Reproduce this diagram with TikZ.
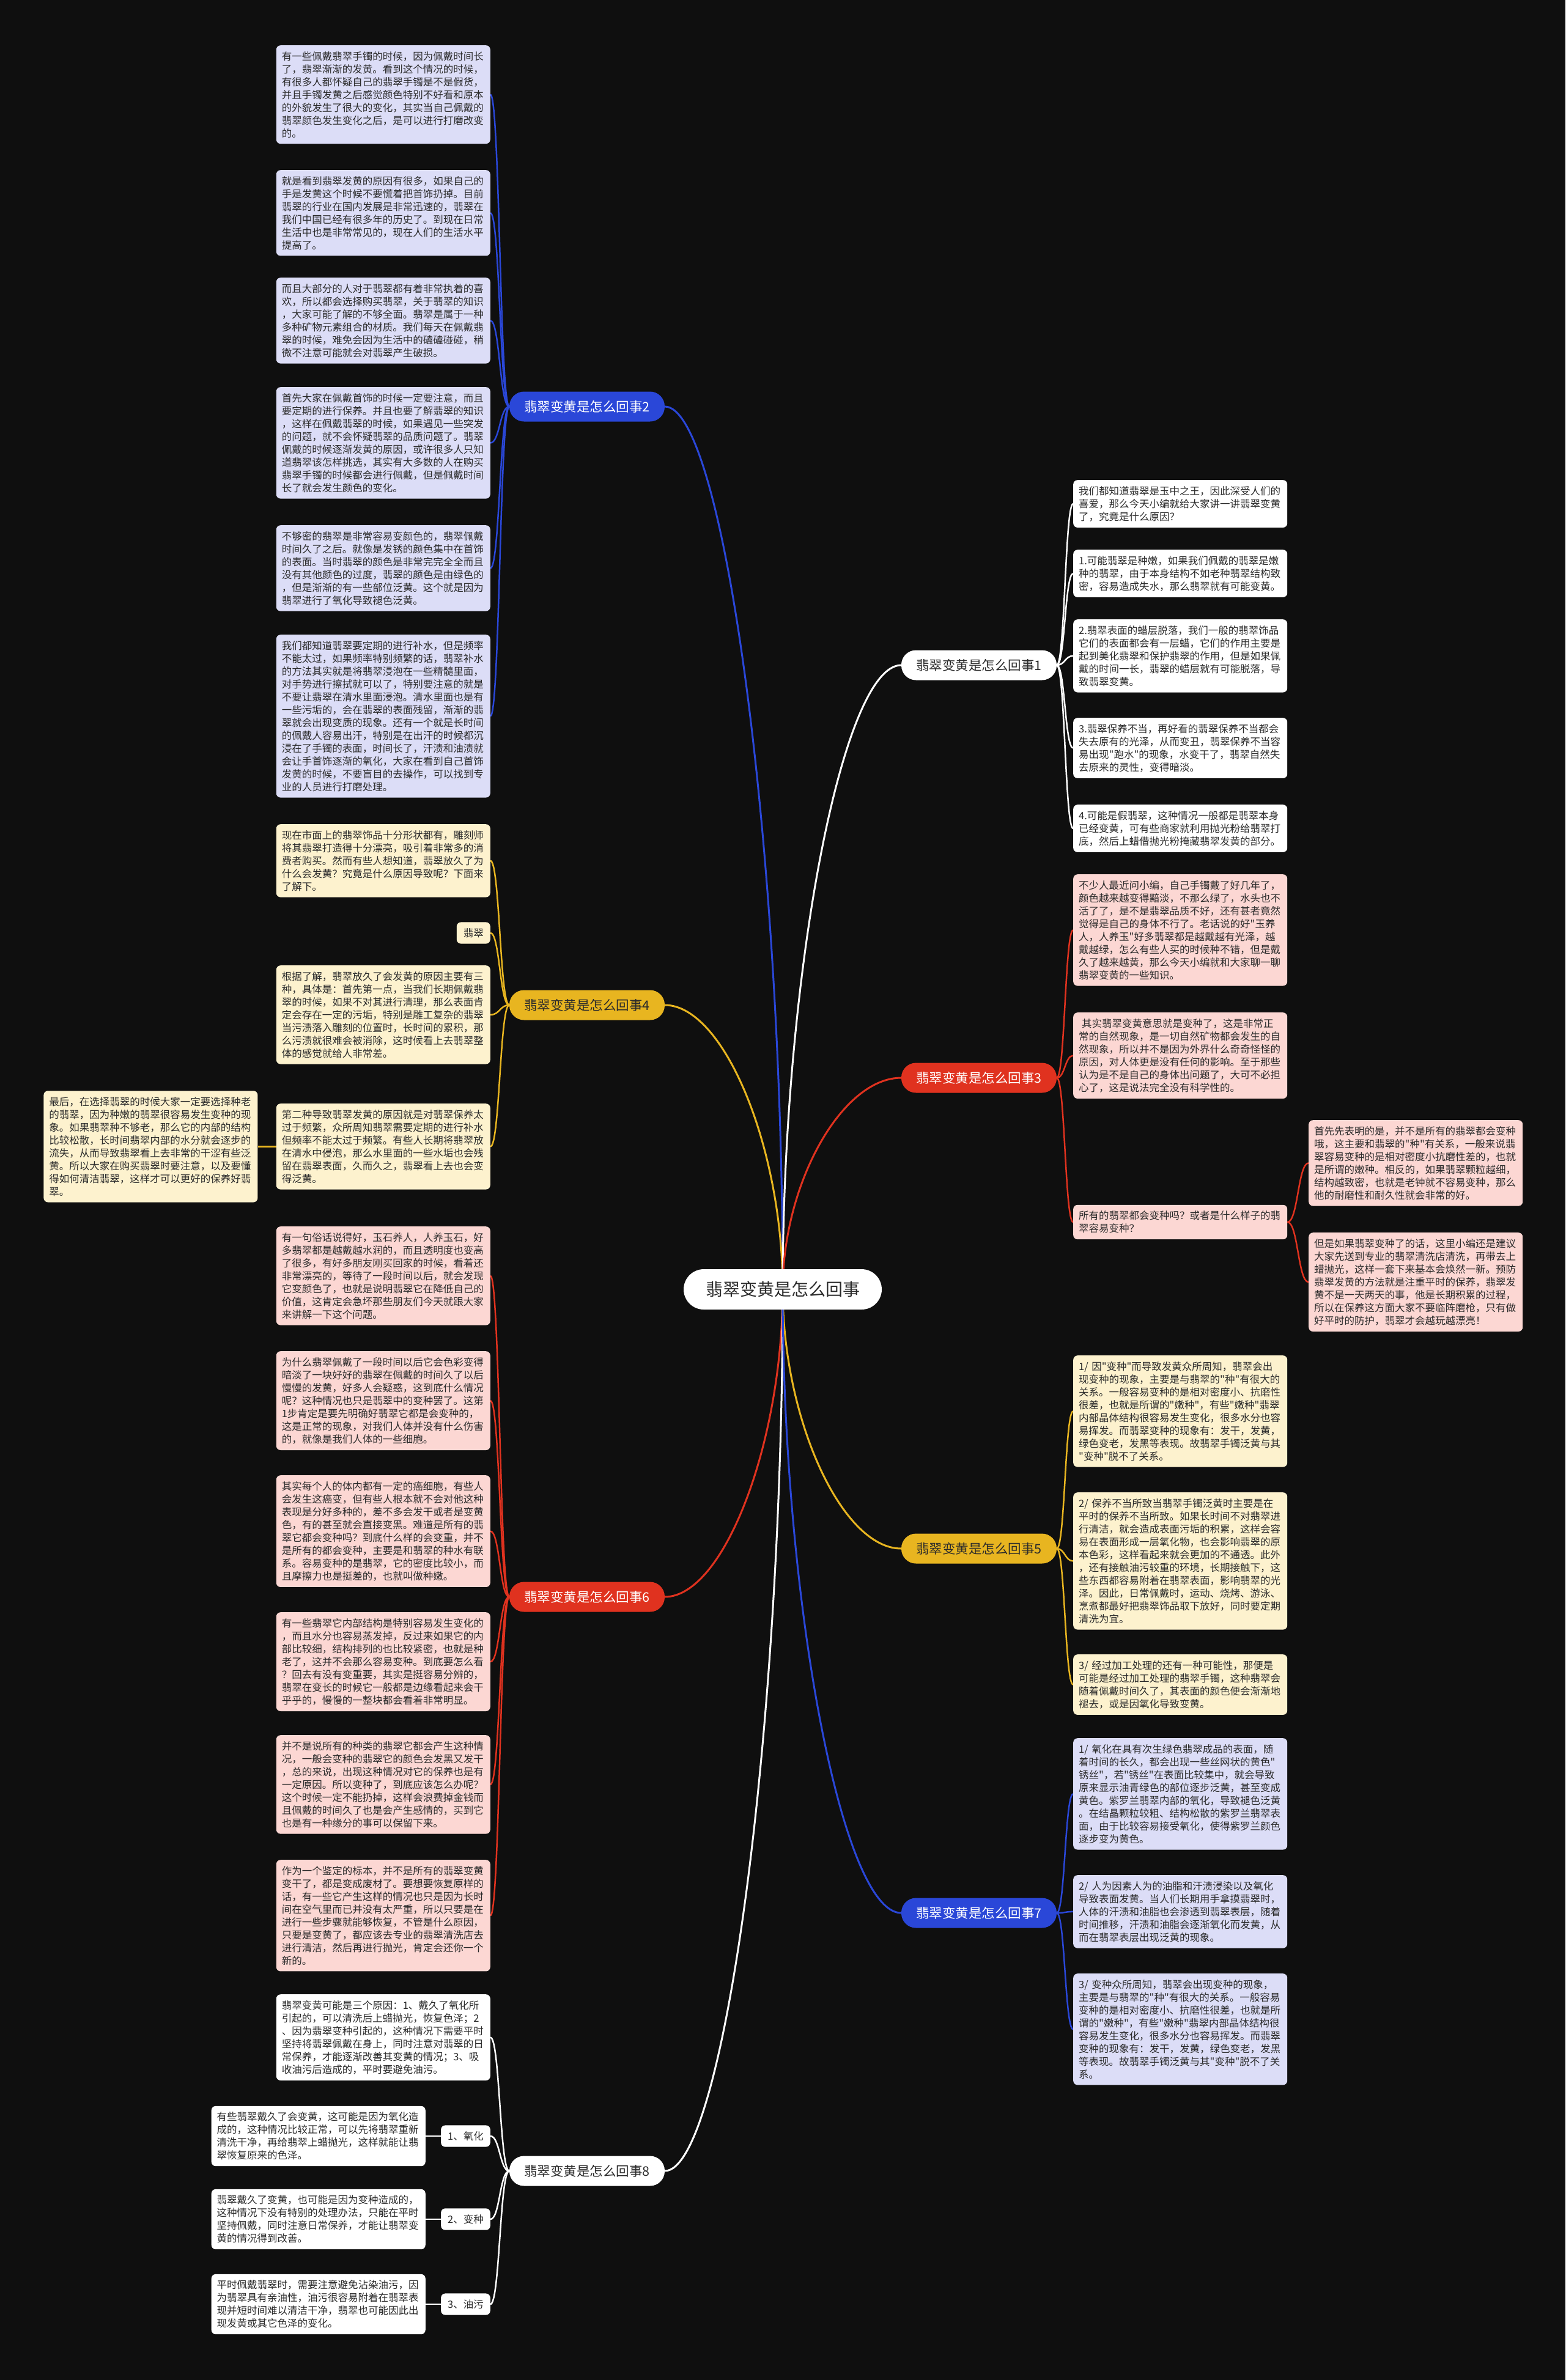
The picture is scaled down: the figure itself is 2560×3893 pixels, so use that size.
\documentclass[tikz,border=0pt]{standalone}
\usepackage{fontspec}
\newfontfamily\cjkf{Noto Sans CJK SC}
\usetikzlibrary{calc}
\pgfdeclarelayer{bgfill}
\pgfdeclarelayer{lines}
\pgfsetlayers{bgfill,lines,main}
\definecolor{bgc}{HTML}{0F0F0F}
\definecolor{cblue}{HTML}{2A47D8}
\definecolor{cgold}{HTML}{E8B520}
\definecolor{cred}{HTML}{E0321F}
\definecolor{flav}{HTML}{DCDDF7}
\definecolor{fcream}{HTML}{FDF2CE}
\definecolor{fpink}{HTML}{FCD7D3}
\definecolor{txt}{HTML}{2B2B2B}
\newcommand\mmH[3]{\path (#2) -- (#3) coordinate[pos=0.5] (mmtmp);
  \draw[#1] (#2) .. controls (mmtmp |- #2) and (mmtmp |- #3) .. (#3);}
\newcommand\mmV[3]{\path (#2) -- (#3) coordinate[pos=0.5] (mmtmp);
  \draw[#1] (#2) .. controls (#2 |- mmtmp) and (mmtmp |- #3) .. (#3);}
\tikzset{
  tbox/.style={rounded corners=7pt, text width=332pt, align=left, inner xsep=9pt, inner ysep=10pt, font=\cjkf\fontsize{16.5}{21}\selectfont, text=txt},
  wbox/.style={tbox, fill=white},
  lbox/.style={tbox, fill=flav},
  cbox/.style={tbox, fill=fcream},
  pbox/.style={tbox, fill=fpink},
  pill/.style={rounded corners=24pt, minimum width=254pt, minimum height=49pt, inner sep=0pt, font=\cjkf\fontsize{21.5}{26}\selectfont},
  ttag/.style={rounded corners=7pt, inner xsep=11pt, inner ysep=10pt, font=\cjkf\fontsize{16.5}{21}\selectfont, text=txt},
  mainline/.style={line width=3pt},
  subline/.style={line width=2.5pt},
}
\begin{document}
\begin{tikzpicture}[x=1pt,y=-1pt]
\begin{pgfonlayer}{bgfill}
\fill[bgc] (0,0) rectangle (2560,3893);
\end{pgfonlayer}
\useasboundingbox (0,0) rectangle (2560,3893);

% center
\node[fill=white, rounded corners=33pt, minimum width=324pt, minimum height=66pt, inner sep=0pt, font=\cjkf\fontsize{28}{34}\selectfont, text=txt] (ctr) at (1280,2109) {翡翠变黄是怎么回事};

% branch labels
\node[pill, fill=cblue, text=white] (b2) at (960,665) {翡翠变黄是怎么回事2};
\node[pill, fill=cgold, text=txt] (b4) at (960,1644) {翡翠变黄是怎么回事4};
\node[pill, fill=cred, text=white] (b6) at (960,2612) {翡翠变黄是怎么回事6};
\node[pill, fill=white, text=txt] (b8) at (960,3551) {翡翠变黄是怎么回事8};
\node[pill, fill=white, text=txt] (b1) at (1601,1088) {翡翠变黄是怎么回事1};
\node[pill, fill=cred, text=white] (b3) at (1601,1763) {翡翠变黄是怎么回事3};
\node[pill, fill=cgold, text=txt] (b5) at (1601,2533) {翡翠变黄是怎么回事5};
\node[pill, fill=cblue, text=white] (b7) at (1601,3129) {翡翠变黄是怎么回事7};

% branch 2
\node[lbox, anchor=north east] (b2a) at (802,74) {有一些佩戴翡翠手镯的时候，因为佩戴时间长\\了，翡翠渐渐的发黄。看到这个情况的时候，\\有很多人都怀疑自己的翡翠手镯是不是假货，\\并且手镯发黄之后感觉颜色特别不好看和原本\\的外貌发生了很大的变化，其实当自己佩戴的\\翡翠颜色发生变化之后，是可以进行打磨改变\\的。};
\node[lbox, anchor=north east] (b2b) at (802,278) {就是看到翡翠发黄的原因有很多，如果自己的\\手是发黄这个时候不要慌着把首饰扔掉。目前\\翡翠的行业在国内发展是非常迅速的，翡翠在\\我们中国已经有很多年的历史了。到现在日常\\生活中也是非常常见的，现在人们的生活水平\\提高了。};
\node[lbox, anchor=north east] (b2c) at (802,454) {而且大部分的人对于翡翠都有着非常执着的喜\\欢，所以都会选择购买翡翠，关于翡翠的知识\\，大家可能了解的不够全面。翡翠是属于一种\\多种矿物元素组合的材质。我们每天在佩戴翡\\翠的时候，难免会因为生活中的磕磕碰碰，稍\\微不注意可能就会对翡翠产生破损。};
\node[lbox, anchor=north east] (b2d) at (802,633) {首先大家在佩戴首饰的时候一定要注意，而且\\要定期的进行保养。并且也要了解翡翠的知识\\，这样在佩戴翡翠的时候，如果遇见一些突发\\的问题，就不会怀疑翡翠的品质问题了。翡翠\\佩戴的时候逐渐发黄的原因，或许很多人只知\\道翡翠该怎样挑选，其实有大多数的人在购买\\翡翠手镯的时候都会进行佩戴，但是佩戴时间\\长了就会发生颜色的变化。};
\node[lbox, anchor=north east] (b2e) at (802,859) {不够密的翡翠是非常容易变颜色的，翡翠佩戴\\时间久了之后。就像是发锈的颜色集中在首饰\\的表面。当时翡翠的颜色是非常完完全全而且\\没有其他颜色的过度，翡翠的颜色是由绿色的\\，但是渐渐的有一些部位泛黄。这个就是因为\\翡翠进行了氧化导致褪色泛黄。};
\node[lbox, anchor=north east] (b2f) at (802,1038) {我们都知道翡翠要定期的进行补水，但是频率\\不能太过，如果频率特别频繁的话，翡翠补水\\的方法其实就是将翡翠浸泡在一些精髓里面，\\对手势进行擦拭就可以了，特别要注意的就是\\不要让翡翠在清水里面浸泡。清水里面也是有\\一些污垢的，会在翡翠的表面残留，渐渐的翡\\翠就会出现变质的现象。还有一个就是长时间\\的佩戴人容易出汗，特别是在出汗的时候都沉\\浸在了手镯的表面，时间长了，汗渍和油渍就\\会让手首饰逐渐的氧化，大家在看到自己首饰\\发黄的时候，不要盲目的去操作，可以找到专\\业的人员进行打磨处理。};

% branch 4
\node[cbox, anchor=north east] (b4a) at (802,1348) {现在市面上的翡翠饰品十分形状都有，雕刻师\\将其翡翠打造得十分漂亮，吸引着非常多的消\\费者购买。然而有些人想知道，翡翠放久了为\\什么会发黄？究竟是什么原因导致呢？下面来\\了解下。};
\node[ttag, fill=fcream, anchor=east] (b4b) at (802,1526) {翡翠};
\node[cbox, anchor=north east] (b4c) at (802,1579) {根据了解，翡翠放久了会发黄的原因主要有三\\种，具体是：首先第一点，当我们长期佩戴翡\\翠的时候，如果不对其进行清理，那么表面肯\\定会存在一定的污垢，特别是雕工复杂的翡翠\\当污渍落入雕刻的位置时，长时间的累积，那\\么污渍就很难会被消除，这时候看上去翡翠整\\体的感觉就给人非常差。};
\node[cbox, anchor=north east] (b4d) at (802,1805) {第二种导致翡翠发黄的原因就是对翡翠保养太\\过于频繁，众所周知翡翠需要定期的进行补水\\但频率不能太过于频繁。有些人长期将翡翠放\\在清水中侵泡，那么水里面的一些水垢也会残\\留在翡翠表面，久而久之，翡翠看上去也会变\\得泛黄。};
\node[cbox, anchor=east] (b4f) at ([xshift=-30pt]b4d.west) {最后，在选择翡翠的时候大家一定要选择种老\\的翡翠，因为种嫩的翡翠很容易发生变种的现\\象。如果翡翠种不够老，那么它的内部的结构\\比较松散，长时间翡翠内部的水分就会逐步的\\流失，从而导致翡翠看上去非常的干涩有些泛\\黄。所以大家在购买翡翠时要注意，以及要懂\\得如何清洁翡翠，这样才可以更好的保养好翡\\翠。};

% branch 6
\node[pbox, anchor=north east] (b6a) at (802,2006) {有一句俗话说得好，玉石养人，人养玉石，好\\多翡翠都是越戴越水润的，而且透明度也变高\\了很多，有好多朋友刚买回家的时候，看着还\\非常漂亮的，等待了一段时间以后，就会发现\\它变颜色了，也就是说明翡翠它在降低自己的\\价值，这肯定会急坏那些朋友们今天就跟大家\\来讲解一下这个问题。};
\node[pbox, anchor=north east] (b6b) at (802,2210) {为什么翡翠佩戴了一段时间以后它会色彩变得\\暗淡了一块好好的翡翠在佩戴的时间久了以后\\慢慢的发黄，好多人会疑惑，这到底什么情况\\呢？这种情况也只是翡翠中的变种罢了。这第\\1步肯定是要先明确好翡翠它都是会变种的，\\这是正常的现象，对我们人体并没有什么伤害\\的，就像是我们人体的一些细胞。};
\node[pbox, anchor=north east] (b6c) at (802,2413) {其实每个人的体内都有一定的癌细胞，有些人\\会发生这癌变，但有些人根本就不会对他这种\\表现是分好多种的，差不多会发干或者是变黄\\色，有的甚至就会直接变黑。难道是所有的翡\\翠它都会变种吗？到底什么样的会变重，并不\\是所有的都会变种，主要是和翡翠的种水有联\\系。容易变种的是翡翠，它的密度比较小，而\\且摩擦力也是挺差的，也就叫做种嫩。};
\node[pbox, anchor=north east] (b6d) at (802,2637) {有一些翡翠它内部结构是特别容易发生变化的\\，而且水分也容易蒸发掉，反过来如果它的内\\部比较细，结构排列的也比较紧密，也就是种\\老了，这并不会那么容易变种。到底要怎么看\\？回去有没有变重要，其实是挺容易分辨的，\\翡翠在变长的时候它一般都是边缘看起来会干\\乎乎的，慢慢的一整块都会看着非常明显。};
\node[pbox, anchor=north east] (b6e) at (802,2838) {并不是说所有的种类的翡翠它都会产生这种情\\况，一般会变种的翡翠它的颜色会发黑又发干\\，总的来说，出现这种情况对它的保养也是有\\一定原因。所以变种了，到底应该怎么办呢？\\这个时候一定不能扔掉，这样会浪费掉金钱而\\且佩戴的时间久了也是会产生感情的，买到它\\也是有一种缘分的事可以保留下来。};
\node[pbox, anchor=north east] (b6f) at (802,3042) {作为一个鉴定的标本，并不是所有的翡翠变黄\\变干了，都是变成废材了。要想要恢复原样的\\话，有一些它产生这样的情况也只是因为长时\\间在空气里而已并没有太严重，所以只要是在\\进行一些步骤就能够恢复，不管是什么原因，\\只要是变黄了，都应该去专业的翡翠清洗店去\\进行清洁，然后再进行抛光，肯定会还你一个\\新的。};

% branch 8
\node[wbox, anchor=north east] (b8a) at (802,3262) {翡翠变黄可能是三个原因：1、戴久了氧化所\\引起的，可以清洗后上蜡抛光，恢复色泽；2\\、因为翡翠变种引起的，这种情况下需要平时\\坚持将翡翠佩戴在身上，同时注意对翡翠的日\\常保养，才能逐渐改善其变黄的情况；3、吸\\收油污后造成的，平时要避免油污。};
\node[ttag, fill=white, anchor=east] (t81) at (802,3494) {1、氧化};
\node[ttag, fill=white, anchor=east] (t82) at (802,3630) {2、变种};
\node[ttag, fill=white, anchor=east] (t83) at (802,3769) {3、油污};
\node[wbox, anchor=east] (b8b) at ([xshift=-25pt]t81.west) {有些翡翠戴久了会变黄，这可能是因为氧化造\\成的，这种情况比较正常，可以先将翡翠重新\\清洗干净，再给翡翠上蜡抛光，这样就能让翡\\翠恢复原来的色泽。};
\node[wbox, anchor=east] (b8c) at ([xshift=-25pt]t82.west) {翡翠戴久了变黄，也可能是因为变种造成的，\\这种情况下没有特别的处理办法，只能在平时\\坚持佩戴，同时注意日常保养，才能让翡翠变\\黄的情况得到改善。};
\node[wbox, anchor=east] (b8d) at ([xshift=-25pt]t83.west) {平时佩戴翡翠时，需要注意避免沾染油污，因\\为翡翠具有亲油性，油污很容易附着在翡翠表\\现并短时间难以清洁干净，翡翠也可能因此出\\现发黄或其它色泽的变化。};

% branch 1
\node[wbox, anchor=north west] (b1a) at (1755,785) {我们都知道翡翠是玉中之王，因此深受人们的\\喜爱，那么今天小编就给大家讲一讲翡翠变黄\\了，究竟是什么原因？};
\node[wbox, anchor=north west] (b1b) at (1755,899) {1.可能翡翠是种嫩，如果我们佩戴的翡翠是嫩\\种的翡翠，由于本身结构不如老种翡翠结构致\\密，容易造成失水，那么翡翠就有可能变黄。};
\node[wbox, anchor=north west] (b1c) at (1755,1013) {2.翡翠表面的蜡层脱落，我们一般的翡翠饰品\\它们的表面都会有一层蜡，它们的作用主要是\\起到美化翡翠和保护翡翠的作用，但是如果佩\\戴的时间一长，翡翠的蜡层就有可能脱落，导\\致翡翠变黄。};
\node[wbox, anchor=north west] (b1d) at (1755,1174) {3.翡翠保养不当，再好看的翡翠保养不当都会\\失去原有的光泽，从而变丑，翡翠保养不当容\\易出现"跑水"的现象，水变干了，翡翠自然失\\去原来的灵性，变得暗淡。};
\node[wbox, anchor=north west] (b1e) at (1755,1316) {4.可能是假翡翠，这种情况一般都是翡翠本身\\已经变黄，可有些商家就利用抛光粉给翡翠打\\底，然后上蜡借抛光粉掩藏翡翠发黄的部分。};

% branch 3
\node[pbox, anchor=north west] (b3a) at (1755,1430) {不少人最近问小编，自己手镯戴了好几年了，\\颜色越来越变得黯淡，不那么绿了，水头也不\\活了了，是不是翡翠品质不好，还有甚者竟然\\觉得是自己的身体不行了。老话说的好"玉养\\人，人养玉"好多翡翠都是越戴越有光泽，越\\戴越绿，怎么有些人买的时候种不错，但是戴\\久了越来越黄，那么今天小编就和大家聊一聊\\翡翠变黄的一些知识。};
\node[pbox, anchor=north west] (b3b) at (1755,1656) {\hspace*{0.3em}其实翡翠变黄意思就是变种了，这是非常正\\常的自然现象，是一切自然矿物都会发生的自\\然现象，所以并不是因为外界什么奇奇怪怪的\\原因，对人体更是没有任何的影响。至于那些\\认为是不是自己的身体出问题了，大可不必担\\心了，这是说法完全没有科学性的。};
\node[pbox, anchor=west] (b3c) at (1755,1999) {所有的翡翠都会变种吗？或者是什么样子的翡\\翠容易变种？};
\node[pbox, anchor=north west] (b3d) at (2140,1832) {首先先表明的是，并不是所有的翡翠都会变种\\哦，这主要和翡翠的"种"有关系，一般来说翡\\翠容易变种的是相对密度小抗磨性差的，也就\\是所谓的嫩种。相反的，如果翡翠颗粒越细，\\结构越致密，也就是老钟就不容易变种，那么\\他的耐磨性和耐久性就会非常的好。};
\node[pbox, anchor=north west] (b3e) at (2140,2016) {但是如果翡翠变种了的话，这里小编还是建议\\大家先送到专业的翡翠清洗店清洗，再带去上\\蜡抛光，这样一套下来基本会焕然一新。预防\\翡翠发黄的方法就是注重平时的保养，翡翠发\\黄不是一天两天的事，他是长期积累的过程，\\所以在保养这方面大家不要临阵磨枪，只有做\\好平时的防护，翡翠才会越玩越漂亮！};

% branch 5
\node[cbox, anchor=north west] (b5a) at (1755,2217) {1/~因"变种"而导致发黄众所周知，翡翠会出\\现变种的现象，主要是与翡翠的"种"有很大的\\关系。一般容易变种的是相对密度小、抗磨性\\很差，也就是所谓的"嫩种"，有些"嫩种"翡翠\\内部晶体结构很容易发生变化，很多水分也容\\易挥发。而翡翠变种的现象有：发干，发黄，\\绿色变老，发黑等表现。故翡翠手镯泛黄与其\\"变种"脱不了关系。};
\node[cbox, anchor=north west] (b5b) at (1755,2441) {2/~保养不当所致当翡翠手镯泛黄时主要是在\\平时的保养不当所致。如果长时间不对翡翠进\\行清洁，就会造成表面污垢的积累，这样会容\\易在表面形成一层氧化物，也会影响翡翠的原\\本色彩，这样看起来就会更加的不通透。此外\\，还有接触油污较重的环境，长期接触下，这\\些东西都容易附着在翡翠表面，影响翡翠的光\\泽。因此，日常佩戴时，运动、烧烤、游泳、\\烹煮都最好把翡翠饰品取下放好，同时要定期\\清洗为宜。};
\node[cbox, anchor=north west] (b5c) at (1755,2706) {3/~经过加工处理的还有一种可能性，那便是\\可能是经过加工处理的翡翠手镯，这种翡翠会\\随着佩戴时间久了，其表面的颜色便会渐渐地\\褪去，或是因氧化导致变黄。};

% branch 7
\node[lbox, anchor=north west] (b7a) at (1755,2843) {1/~氧化在具有次生绿色翡翠成品的表面，随\\着时间的长久，都会出现一些丝网状的黄色"\\锈丝"，若"锈丝"在表面比较集中，就会导致\\原来显示油青绿色的部位逐步泛黄，甚至变成\\黄色。紫罗兰翡翠内部的氧化，导致褪色泛黄\\。在结晶颗粒较粗、结构松散的紫罗兰翡翠表\\面，由于比较容易接受氧化，使得紫罗兰颜色\\逐步变为黄色。};
\node[lbox, anchor=north west] (b7b) at (1755,3067) {2/~人为因素人为的油脂和汗渍浸染以及氧化\\导致表面发黄。当人们长期用手拿摸翡翠时，\\人体的汗渍和油脂也会渗透到翡翠表层，随着\\时间推移，汗渍和油脂会逐渐氧化而发黄，从\\而在翡翠表层出现泛黄的现象。};
\node[lbox, anchor=north west] (b7c) at (1755,3228) {3/~变种众所周知，翡翠会出现变种的现象，\\主要是与翡翠的"种"有很大的关系。一般容易\\变种的是相对密度小、抗磨性很差，也就是所\\谓的"嫩种"，有些"嫩种"翡翠内部晶体结构很\\容易发生变化，很多水分也容易挥发。而翡翠\\变种的现象有：发干，发黄，绿色变老，发黑\\等表现。故翡翠手镯泛黄与其"变种"脱不了关\\系。};

\begin{pgfonlayer}{lines}
% center to branches
\mmV{mainline,cblue}{ctr.center}{b2.east}
\mmV{mainline,cgold}{ctr.center}{b4.east}
\mmV{mainline,cred}{ctr.center}{b6.east}
\mmV{mainline,white}{ctr.center}{b8.east}
\mmV{mainline,white}{ctr.center}{b1.west}
\mmV{mainline,cred}{ctr.center}{b3.west}
\mmV{mainline,cgold}{ctr.center}{b5.west}
\mmV{mainline,cblue}{ctr.center}{b7.west}
% branch 2
\foreach \c in {b2a,b2b,b2c,b2d,b2e,b2f}{\mmH{subline,cblue}{b2.west}{\c.east}}
% branch 4
\foreach \c in {b4a,b4b,b4c,b4d}{\mmH{subline,cgold}{b4.west}{\c.east}}
\mmH{subline,cgold}{b4d.west}{b4f.east}
% branch 6
\foreach \c in {b6a,b6b,b6c,b6d,b6e,b6f}{\mmH{subline,cred}{b6.west}{\c.east}}
% branch 8
\foreach \c in {b8a,t81,t82,t83}{\mmH{subline,white}{b8.west}{\c.east}}
\mmH{subline,white}{t81.west}{b8b.east}
\mmH{subline,white}{t82.west}{b8c.east}
\mmH{subline,white}{t83.west}{b8d.east}
% branch 1
\foreach \c in {b1a,b1b,b1c,b1d,b1e}{\mmH{subline,white}{b1.east}{\c.west}}
% branch 3
\foreach \c in {b3a,b3b,b3c}{\mmH{subline,cred}{b3.east}{\c.west}}
\mmH{subline,cred}{b3c.east}{b3d.west}
\mmH{subline,cred}{b3c.east}{b3e.west}
% branch 5
\foreach \c in {b5a,b5b,b5c}{\mmH{subline,cgold}{b5.east}{\c.west}}
% branch 7
\foreach \c in {b7a,b7b,b7c}{\mmH{subline,cblue}{b7.east}{\c.west}}
\end{pgfonlayer}
\end{tikzpicture}
\end{document}
